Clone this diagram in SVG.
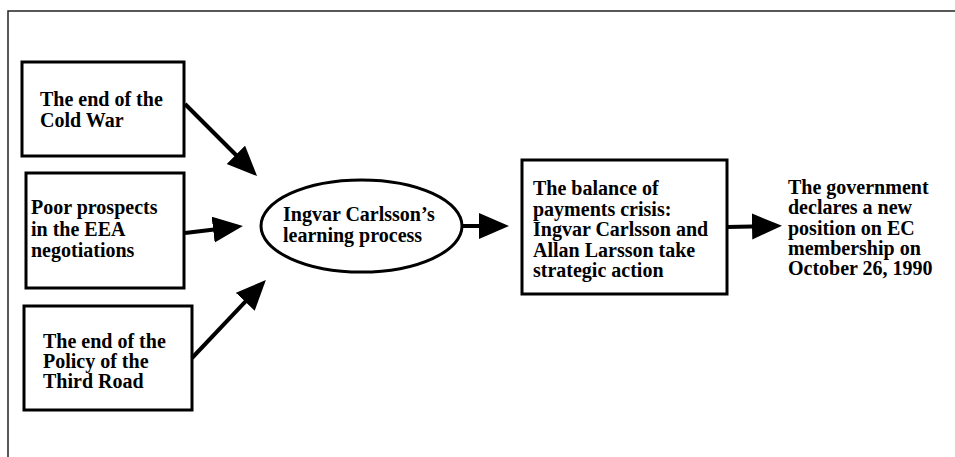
<svg xmlns="http://www.w3.org/2000/svg" width="955" height="457" viewBox="0 0 955 457">
<style>
.box{fill:#fff;stroke:#000;stroke-width:3}
.t{font-family:"Liberation Serif","Times New Roman",serif;font-size:20px;font-weight:bold;fill:#000}
.c{fill:none;stroke:#000;stroke-width:4}
</style>
<defs>
<marker id="ah" markerUnits="userSpaceOnUse" markerWidth="32" markerHeight="28" refX="20" refY="13" orient="auto">
<path d="M0,0 L30,13 L0,26 z" fill="#000"/>
</marker>
</defs>
<rect width="955" height="457" fill="#fff"/>
<path d="M8 457 L8 11 L955 11" fill="none" stroke="#222" stroke-width="1.5"/>
<g id="n1">
<rect class="box" x="22" y="62" width="162" height="94"/>
<text class="t" x="40" y="106">The end of the</text>
<text class="t" x="40" y="127">Cold War</text>
</g>
<g id="n2">
<rect class="box" x="26" y="173" width="158" height="115"/>
<text class="t" x="31" y="214">Poor prospects</text>
<text class="t" x="31" y="236">in the EEA</text>
<text class="t" x="31" y="257">negotiations</text>
</g>
<g id="n3">
<rect class="box" x="24" y="306" width="168" height="104"/>
<text class="t" x="43" y="348">The end of the</text>
<text class="t" x="43" y="368">Policy of the</text>
<text class="t" x="43" y="388">Third Road</text>
</g>
<g id="n4">
<ellipse cx="361.5" cy="226" rx="100.5" ry="46" fill="#fff" stroke="#000" stroke-width="3"/>
<text class="t" x="283" y="221">Ingvar Carlsson’s</text>
<text class="t" x="283" y="242">learning process</text>
</g>
<g id="n5">
<rect class="box" x="522" y="160" width="205" height="134"/>
<text class="t" x="533" y="195">The balance of</text>
<text class="t" x="533" y="216">payments crisis:</text>
<text class="t" x="533" y="236">Ingvar Carlsson and</text>
<text class="t" x="533" y="257">Allan Larsson take</text>
<text class="t" x="533" y="277">strategic action</text>
</g>
<g id="n6">
<text class="t" x="788" y="194">The government</text>
<text class="t" x="788" y="214">declares a new</text>
<text class="t" x="788" y="235">position on EC</text>
<text class="t" x="788" y="255">membership on</text>
<text class="t" x="788" y="275">October 26, 1990</text>
</g>
<g id="connectors">
<line class="c" x1="185" y1="104" x2="250" y2="169" marker-end="url(#ah)"/>
<line class="c" x1="185" y1="233" x2="233" y2="227.2" marker-end="url(#ah)"/>
<line class="c" x1="192" y1="358" x2="259" y2="287.3" marker-end="url(#ah)"/>
<line class="c" x1="462" y1="226" x2="499" y2="226" marker-end="url(#ah)"/>
<line class="c" x1="727" y1="227" x2="772" y2="226" marker-end="url(#ah)"/>
</g>
</svg>
